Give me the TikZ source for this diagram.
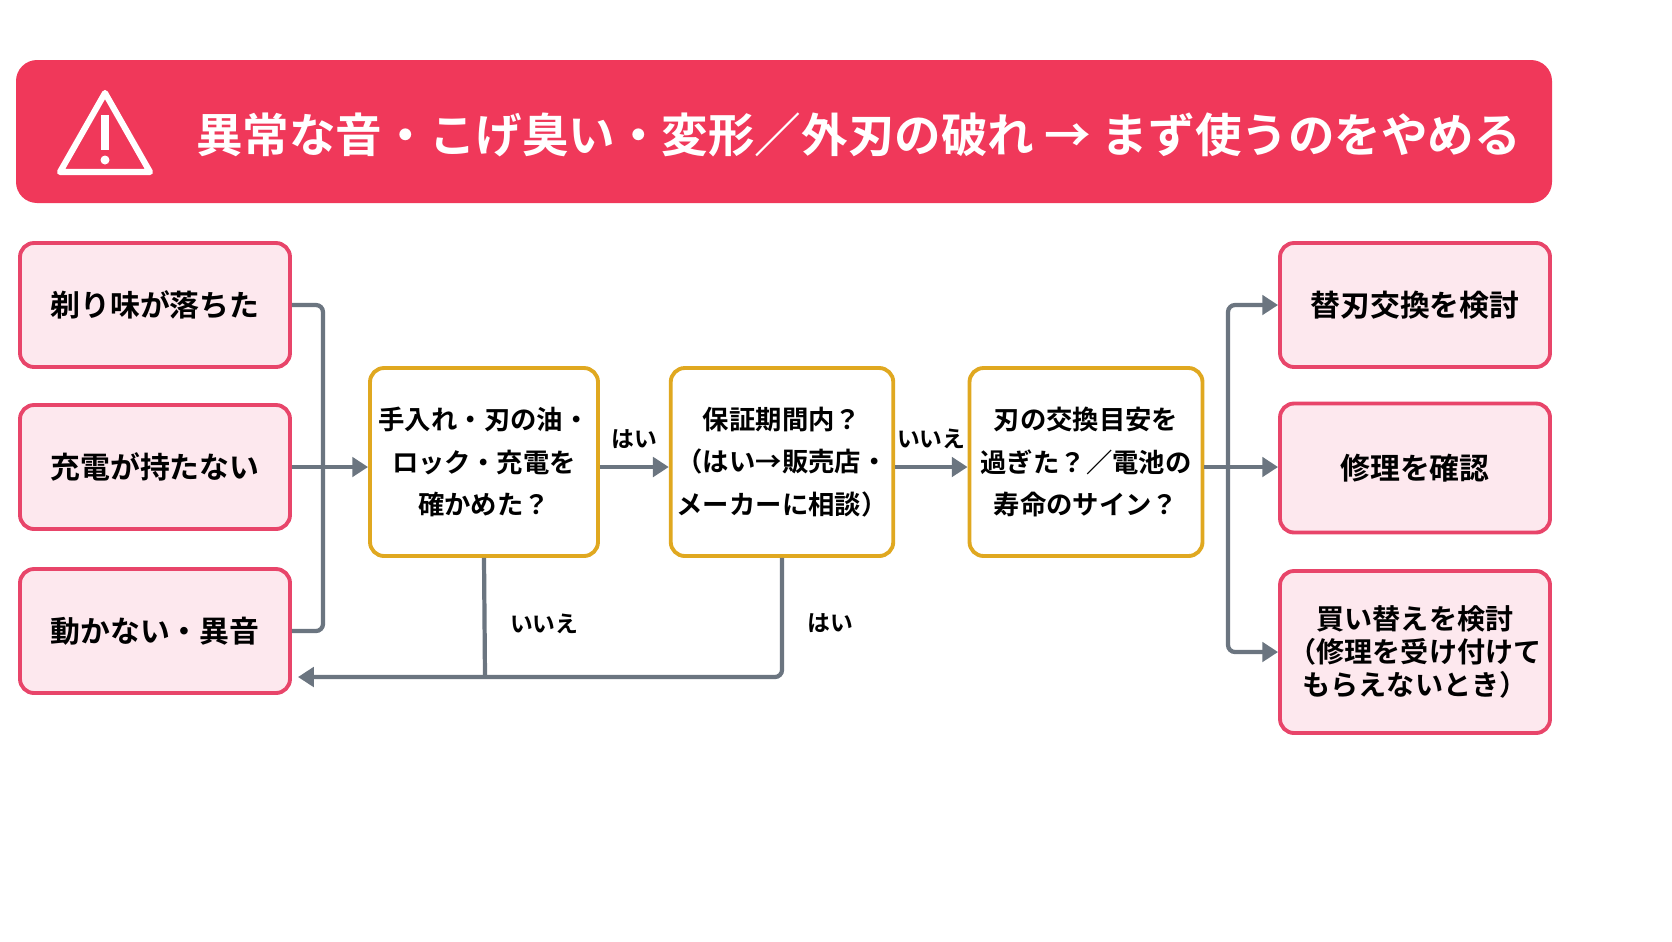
\documentclass[tikz,border=0pt]{standalone}
\usepackage{fontspec}
\setmainfont{Noto Sans CJK JP}[BoldFont={Noto Sans CJK JP Bold}]
\usetikzlibrary{arrows.meta,positioning}
\definecolor{kRed}{HTML}{F0385A}
\definecolor{kPinkLine}{HTML}{E8456A}
\definecolor{kPink}{HTML}{FDE8EE}
\definecolor{kGold}{HTML}{E0A820}
\definecolor{kGrey}{HTML}{6B7580}
\tikzset{
  cause/.style={draw=kPinkLine,line width=2.2pt,fill=kPink,rounded corners=8pt,
    minimum width=270*0.02cm,minimum height=124*0.02cm,font=\bfseries\fontsize{17}{21}\selectfont,align=center},
  check/.style={draw=kGold,line width=2.2pt,fill=white,rounded corners=8pt,
    minimum height=188*0.02cm,font=\bfseries\fontsize{15}{24}\selectfont,align=center},
  flow/.style={draw=kGrey,line width=2.4pt},
  arr/.style={flow,-{Triangle[length=9pt,width=11pt]}},
  lbl/.style={font=\bfseries\fontsize{13}{15}\selectfont}
}
\begin{document}
\begin{tikzpicture}[x=0.02cm,y=-0.02cm]
  \useasboundingbox[fill=white] (0,0) rectangle (1672,941);
  % banner
  \fill[kRed,rounded corners=12pt] (16,60) rectangle (1552,203);
  \draw[white,line width=3.5pt,line join=round] (105,93) -- (150,172) -- (60,172) -- cycle;
  \fill[white] (101,115) rectangle (109,150);
  \fill[white] (105,160) circle (4.5);
  \node[text=white,font=\bfseries\fontsize{26.5}{30}\selectfont,anchor=west] (title) at (190,135)
    {異常な音・こげ臭い・変形／外刃の破れ → まず使うのをやめる};
  % causes
  \node[cause] (dull) at (155,305) {剃り味が落ちた};
  \node[cause] (batt) at (155,467) {充電が持たない};
  \node[cause] (stop) at (155,631) {動かない・異音};
  % checks
  \node[check,minimum width=228*0.02cm] (care) at (484,462) {手入れ・刃の油・\\ロック・充電を\\確かめた？};
  \node[check,minimum width=215*0.02cm] (warr) at (782,462) {保証期間内？\\（はい→販売店・\\メーカーに相談）};
  \node[check,minimum width=233*0.02cm] (life) at (1086,462) {刃の交換目安を\\過ぎた？／電池の\\寿命のサイン？};
  % results
  \node[cause] (blade) at (1415,305) {替刃交換を検討};
  \node[cause,minimum height=129*0.02cm] (fix) at (1415,468) {修理を確認};
  \node[cause,minimum height=162*0.02cm,font=\bfseries\fontsize{16}{19}\selectfont] (buy) at (1415,652) {買い替えを検討\\（修理を受け付けて\\もらえないとき）};
  % connectors
  \draw[flow,rounded corners=4pt] (dull.east) -| (323,467) |- (stop.east);
  \draw[arr] (batt.east) -- (care.west |- batt.east);
  \draw[arr] (care.east |- batt.east) -- node[lbl,above=6pt] {はい} (warr.west |- batt.east);
  \draw[arr] (warr.east |- batt.east) -- node[lbl,above=6pt] {いいえ} (life.west |- batt.east);
  \coordinate (back) at (298,677);
  \draw[arr,rounded corners=4pt] (warr.south) -- node[lbl,right=10pt,pos=0.55] {はい} (782,677) -- (back);
  \draw[flow] (care.south) -- node[lbl,right=10pt,pos=0.55] {いいえ} (485,677);
  \coordinate (split) at (1228,467);
  \draw[arr] (life.east |- split) -- (fix.west |- split);
  \draw[arr,rounded corners=4pt] (split) |- (blade.west);
  \draw[arr,rounded corners=4pt] (split) |- (buy.west);
\end{tikzpicture}
\end{document}
